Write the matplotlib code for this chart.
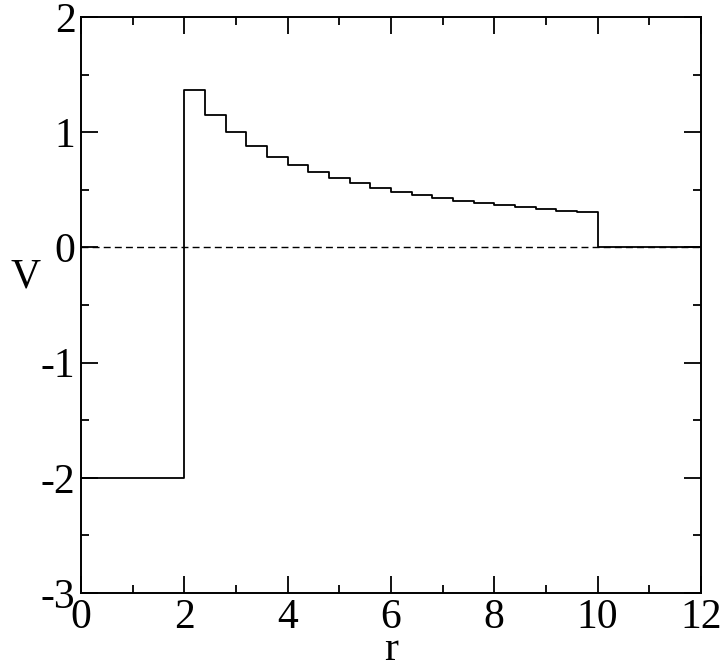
import numpy as np
import matplotlib
matplotlib.use('Agg')
import matplotlib.pyplot as plt
from matplotlib.ticker import MultipleLocator

# step edges in r and the potential level on each step
r_edges = [0.0, 2.0, 2.4, 2.8, 3.2, 3.6, 4.0, 4.4, 4.8, 5.2, 5.6, 6.0,
           6.4, 6.8, 7.2, 7.6, 8.0, 8.4, 8.8, 9.2, 9.6, 10.0, 12.0]
v_steps = [-2.0, 1.364, 1.154, 1.000, 0.882, 0.789, 0.714, 0.652, 0.600,
           0.556, 0.517, 0.484, 0.455, 0.429, 0.405, 0.385, 0.366, 0.349,
           0.333, 0.319, 0.306, 0.0]

plt.rcParams['font.family'] = ['Liberation Serif', 'DejaVu Serif']
plt.rcParams['axes.unicode_minus'] = False

fig = plt.figure(figsize=(7.24, 6.61), dpi=100)
ax = fig.add_axes([0.112, 0.103, 0.856, 0.871])

# stairs: repeat last value so 'post' step reaches r=12
ax.step(r_edges, v_steps + [v_steps[-1]], where='post', color='black', lw=1.3)
ax.plot([0, 12], [0, 0], color='black', lw=1.0, ls=(0, (5, 3)))

ax.set_xlim(0, 12)
ax.set_ylim(-3, 2)
ax.xaxis.set_major_locator(MultipleLocator(2))
ax.xaxis.set_minor_locator(MultipleLocator(1))
ax.yaxis.set_major_locator(MultipleLocator(1))
ax.yaxis.set_minor_locator(MultipleLocator(0.5))
ax.tick_params(which='both', direction='in', top=True, right=True,
               width=1.3, labelsize=30, colors='black')
ax.tick_params(which='major', length=12, pad=4)
ax.tick_params(which='minor', length=6)
for s in ax.spines.values():
    s.set_linewidth(1.4)

ax.set_xlabel('r', fontsize=30, va='top')
ax.xaxis.set_label_coords(0.5, -0.065)
ax.set_ylabel('V', fontsize=30, rotation=0, va='center', ha='center')
ax.yaxis.set_label_coords(-0.09, 0.548)

fig.savefig('out.png', dpi=100)
